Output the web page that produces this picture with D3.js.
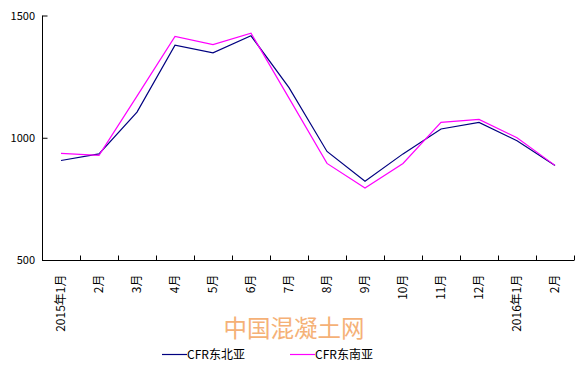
<!DOCTYPE html>
<html><head><meta charset="utf-8">
<script src="https://cdn.jsdelivr.net/npm/d3@7"></script>
<style>body{margin:0;background:#fff}svg{display:block}</style>
</head><body>
<script>
const categories = ["2015年1月","2月","3月","4月","5月","6月","7月","8月","9月","10月","11月","12月","2016年1月","2月"];
const seriesNames = ["CFR东北亚","CFR东南亚"];
const northeast = [907,934,1105,1379,1347,1417,1205,944,822,934,1036,1063,988,887];
const southeast = [936,928,1170,1414,1381,1428,1162,895,794,895,1063,1075,1000,887];
const yTicks = [500,1000,1500];
const colors = ["#000080","#ff00ff"];

const W=585,H=372;
const svg=d3.select("body").append("svg").attr("width",W).attr("height",H);
const font="'Noto Sans CJK SC', sans-serif";
const x=d3.scaleBand().domain(categories.map((d,i)=>i)).range([42,574]);
const y=d3.scaleLinear().domain([500,1500]).range([260,15.5]);

// y axis
const ya=svg.append("g").attr("transform","translate(42,0)")
  .call(d3.axisLeft(y).tickValues(yTicks).tickSize(-5).tickPadding(6).tickFormat(d3.format("d")));
ya.select(".domain").attr("stroke","#000").attr("d","M0.5,15.5V260");
ya.selectAll("line").attr("stroke","#000").attr("transform","translate(0.5,0)");
ya.selectAll("text").attr("font-family",font).attr("font-size",11).attr("fill","#000").attr("dx",-1);

// x axis
const xa=svg.append("g").attr("transform","translate(0,260.5)");
xa.append("line").attr("x1",42).attr("x2",574).attr("stroke","#000");
const bounds=categories.map((d,i)=>x(i)).concat([x(categories.length-1)+x.bandwidth()]);
xa.selectAll("line.t").data(bounds.slice(1)).enter().append("line").attr("class","t")
  .attr("x1",d=>Math.round(d)+0.5).attr("x2",d=>Math.round(d)+0.5).attr("y1",0).attr("y2",-5).attr("stroke","#000");
xa.selectAll("text").data(categories).enter().append("text")
  .attr("transform",(d,i)=>`translate(${x(i)+x.bandwidth()/2+4},14) rotate(-90)`)
  .attr("text-anchor","end").attr("font-family",font).attr("font-size",12).attr("fill","#000")
  .text(d=>d);

// lines
const line=d3.line().x((d,i)=>x(i)+x.bandwidth()/2).y(d=>y(d));
[northeast,southeast].forEach((s,k)=>{
  svg.append("path").datum(s).attr("d",line).attr("fill","none").attr("stroke",colors[k]).attr("stroke-width",1.2);
});

// watermark
svg.append("text").attr("x",294).attr("y",337).attr("text-anchor","middle")
  .attr("font-family",font).attr("font-size",23.5).attr("fill","#f4a460").attr("opacity",0.85).text("中国混凝土网");

// legend
const lg=[{x:162,name:seriesNames[0],c:colors[0]},{x:290,name:seriesNames[1],c:colors[1]}];
lg.forEach(l=>{
  svg.append("line").attr("x1",l.x).attr("x2",l.x+25).attr("y1",354.5).attr("y2",354.5).attr("stroke",l.c).attr("stroke-width",1.2);
  svg.append("text").attr("x",l.x+25).attr("y",359).attr("font-family",font).attr("font-size",12).attr("fill","#000").text(l.name);
});
</script>
</body></html>
